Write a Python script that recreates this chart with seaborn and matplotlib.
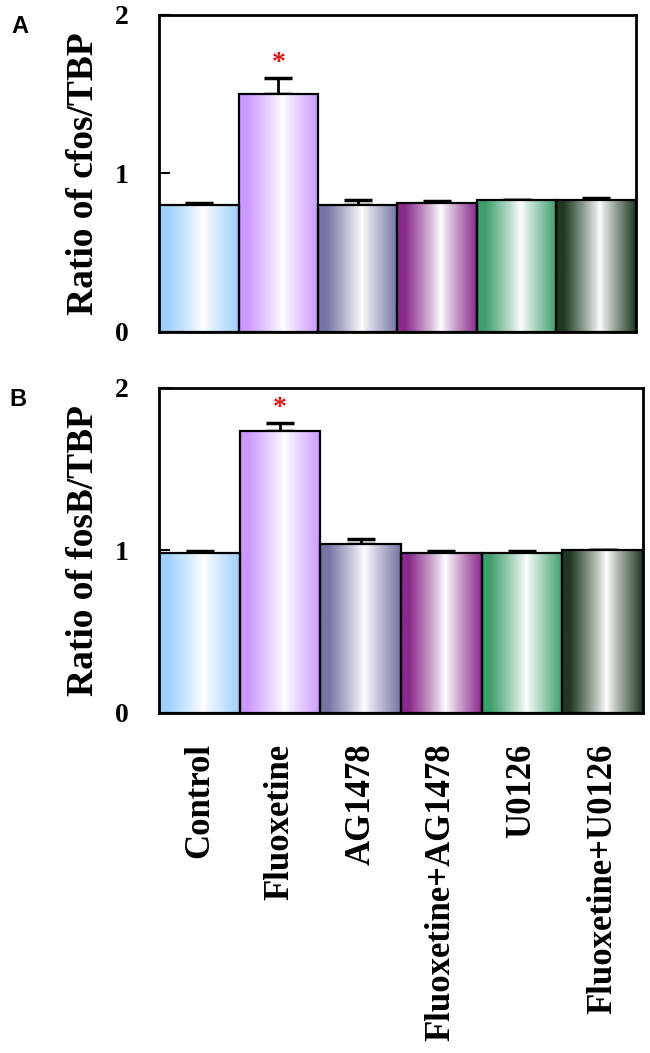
import matplotlib
matplotlib.use("Agg")
import matplotlib.pyplot as plt
import numpy as np
import seaborn as sns
from matplotlib.colors import to_rgb

groups = ["Control", "Fluoxetine", "AG1478", "Fluoxetine+AG1478", "U0126", "Fluoxetine+U0126"]
cfos_mean = [0.80, 1.50, 0.80, 0.81, 0.83, 0.83]
cfos_err = [0.015, 0.10, 0.03, 0.015, 0.0, 0.012]
fosb_mean = [0.98, 1.73, 1.04, 0.98, 0.98, 1.00]
fosb_err = [0.012, 0.05, 0.03, 0.012, 0.012, 0.0]
bar_colors = ["#9fd0ff", "#cc99ff", "#7474a6", "#8a2a8c", "#3f9e6c", "#1f3a22"]

sns.set_style("white", {"text.color": "black", "axes.labelcolor": "black",
                        "xtick.color": "black", "ytick.color": "black"})
plt.rcParams["font.family"] = ["Liberation Serif", "DejaVu Serif"]


def gradient_bars(ax, colors):
    # fill each bar with a colour -> white -> colour gradient, clipped to the bar
    xs = np.linspace(0, 1, 200)
    prof = np.clip(np.abs(xs - 0.55) / 0.45, 0, 1) ** 0.9
    for patch, c in zip(ax.patches, colors):
        rgb = np.array(to_rgb(c))
        img = 1 - prof[:, None] * (1 - rgb[None, :])
        img = img[None, :, :]
        x0, y0 = patch.get_x(), patch.get_y()
        w, h = patch.get_width(), patch.get_height()
        im = ax.imshow(img, extent=[x0, x0 + w, y0, y0 + h], aspect="auto",
                       zorder=patch.get_zorder() - 0.1, interpolation="bilinear")
        im.set_clip_path(patch)
        patch.set_facecolor("none")


def panel(ax, means, errs, ylabel, letter, show_x):
    sns.barplot(x=groups, y=means, color="white", edgecolor="black", linewidth=1.6,
                width=1.0, ax=ax, zorder=3)
    gradient_bars(ax, bar_colors)
    ax.errorbar(range(len(groups)), means, yerr=[np.zeros(len(means)), errs], fmt="none",
                ecolor="black", elinewidth=2, capsize=10, capthick=2.5, zorder=2)
    ax.text(1, means[1] + errs[1] + 0.09, "*", color="#e01010", ha="center", va="center",
            fontsize=20, fontweight="bold")
    ax.set_xlim(-0.5, len(groups) - 0.5)
    ax.set_ylim(0, 2)
    ax.set_yticks([0, 1, 2])
    ax.set_yticklabels(["0", "1", "2"], fontsize=20, fontweight="bold")
    ax.tick_params(axis="y", direction="in", length=8, width=1.5, pad=22, left=True)
    ax.tick_params(axis="x", length=0)
    for s in ax.spines.values():
        s.set_linewidth(2)
        s.set_color("black")
        s.set_zorder(5)
    ax.set_ylabel(ylabel, fontsize=27, fontweight="bold", labelpad=10)
    if show_x:
        ax.set_xticks(range(len(groups)))
        ax.set_xticklabels(groups, rotation=90, fontsize=25, fontweight="bold")
        ax.tick_params(axis="x", pad=22)
    else:
        ax.set_xticklabels([])
    ax.text(-0.31, 1.0, letter, transform=ax.transAxes, fontsize=17, fontweight="bold",
            family="Liberation Sans", va="top", ha="left")


fig = plt.figure(figsize=(6.5, 10.53), dpi=100)
ax_a = fig.add_axes([0.245, 0.685, 0.733, 0.301])
ax_b = fig.add_axes([0.245, 0.323, 0.744, 0.309])
panel(ax_a, cfos_mean, cfos_err, "Ratio of cfos/TBP", "A", False)
panel(ax_b, fosb_mean, fosb_err, "Ratio of fosB/TBP", "B", True)

fig.savefig("out.png", dpi=100, facecolor="white")
